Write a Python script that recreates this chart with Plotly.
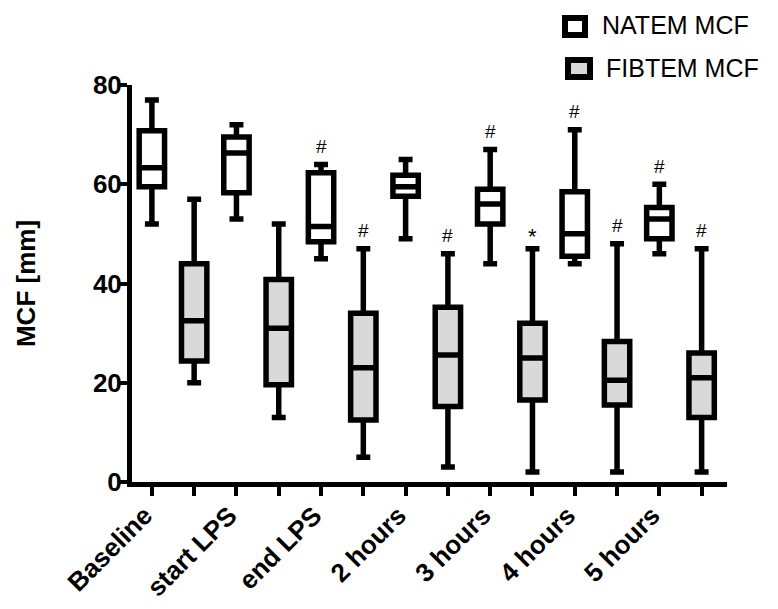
import plotly.graph_objects as go

categories = ["Baseline", "start LPS", "end LPS", "2 hours", "3 hours", "4 hours", "5 hours"]
series_names = ["NATEM MCF", "FIBTEM MCF"]

natem_lower = [52, 53, 45, 49, 44, 44, 46]
natem_q1 = [59.5, 58.3, 48.4, 57.6, 52, 45.5, 49]
natem_median = [63.3, 66.3, 51.5, 59.5, 56, 50, 53]
natem_q3 = [70.8, 69.5, 62.3, 61.8, 59, 58.5, 55.3]
natem_upper = [77, 72, 64, 65, 67, 71, 60]
natem_sig = ["", "", "#", "", "#", "#", "#"]

fibtem_lower = [20, 13, 5, 3, 2, 2, 2]
fibtem_q1 = [24.4, 19.6, 12.5, 15.2, 16.5, 15.5, 13]
fibtem_median = [32.5, 31, 23, 25.6, 25, 20.5, 21]
fibtem_q3 = [44, 40.8, 34, 35.2, 32, 28.3, 26]
fibtem_upper = [57, 52, 47, 46, 47, 48, 47]
fibtem_sig = ["", "", "#", "#", "*", "#", "#"]

y_ticks = [0, 20, 40, 60, 80]
y_title = "MCF [mm]"

FONT = "Arial, 'Liberation Sans', Helvetica, sans-serif"
n = len(categories)
x_natem = [2 * i for i in range(n)]
x_fibtem = [2 * i + 1 for i in range(n)]

fig = go.Figure()
fig.add_trace(go.Box(
    name=series_names[0], x=x_natem,
    lowerfence=natem_lower, q1=natem_q1, median=natem_median, q3=natem_q3, upperfence=natem_upper,
    fillcolor="white", line=dict(color="black", width=5.5), width=0.6, whiskerwidth=0.55,
    boxpoints=False, showlegend=False, hoverinfo="skip"))
fig.add_trace(go.Box(
    name=series_names[1], x=x_fibtem,
    lowerfence=fibtem_lower, q1=fibtem_q1, median=fibtem_median, q3=fibtem_q3, upperfence=fibtem_upper,
    fillcolor="#d9d9d9", line=dict(color="black", width=5.5), width=0.6, whiskerwidth=0.55,
    boxpoints=False, showlegend=False, hoverinfo="skip"))

# significance markers
for xs, ups, sigs in [(x_natem, natem_upper, natem_sig), (x_fibtem, fibtem_upper, fibtem_sig)]:
    for xv, up, s in zip(xs, ups, sigs):
        if s:
            fig.add_annotation(x=xv, y=up, text=s, showarrow=False, yanchor="middle",
                               yshift=18 if s == "#" else 12,
                               font=dict(family=FONT, size=19 if s == "#" else 22, color="black"))

# plot area in page pixels; the page body adds an 8px offset
OFF = 8
W, H = 778, 609
L, R, T, B = 132, 727, 85, 482
def px(xp):
    return (xp - L) / (R - L)
def py(yp):
    return (B - yp) / (B - T)

legend_items = [
    (series_names[0], "white", (565, 18, 585, 35), (600, 25)),
    (series_names[1], "#d9d9d9", (568, 60, 590, 77), (604, 68)),
]
for name, fill, (x0, y0, x1, y1), (tx, ty) in legend_items:
    fig.add_shape(type="rect", xref="paper", yref="paper",
                  x0=px(x0), x1=px(x1), y0=py(y1), y1=py(y0),
                  line=dict(color="black", width=6), fillcolor=fill)
    fig.add_annotation(xref="paper", yref="paper", x=px(tx), y=py(ty), text=name,
                       showarrow=False, xanchor="left", yanchor="middle",
                       font=dict(family=FONT, size=25, color="black"))

tickvals = list(range(2 * n))
ticktext = [categories[i // 2] if i % 2 == 0 else "" for i in tickvals]

fig.update_layout(
    width=W, height=H,
    template="none",
    margin=dict(l=L - OFF, r=W - R + OFF, t=T - OFF, b=H - B + OFF),
    paper_bgcolor="white", plot_bgcolor="white",
    boxmode="overlay",
    font=dict(family=FONT, color="black"),
    xaxis=dict(range=[-0.47, 2 * n - 0.4], tickvals=tickvals, ticktext=ticktext,
               tickangle=-45, ticks="outside", ticklen=9, tickwidth=4, tickcolor="black",
               ticklabelstandoff=-6, ticklabelshift=-7,
               showline=True, linewidth=5, linecolor="black", showgrid=False, zeroline=False,
               automargin=False,
               tickfont=dict(family=FONT, size=26, weight="bold", color="black")),
    yaxis=dict(range=[0, 80], tickvals=y_ticks, ticks="outside", ticklen=9, tickwidth=4,
               tickcolor="black", showline=True, linewidth=5, linecolor="black",
               ticklabelstandoff=-9,
               showgrid=False, zeroline=False, automargin=False,
               tickfont=dict(family=FONT, size=26, weight="bold", color="black"),
               title=dict(text=y_title, standoff=51,
                          font=dict(family=FONT, size=26, weight="bold", color="black"))),
)

fig.write_html("out.html")
